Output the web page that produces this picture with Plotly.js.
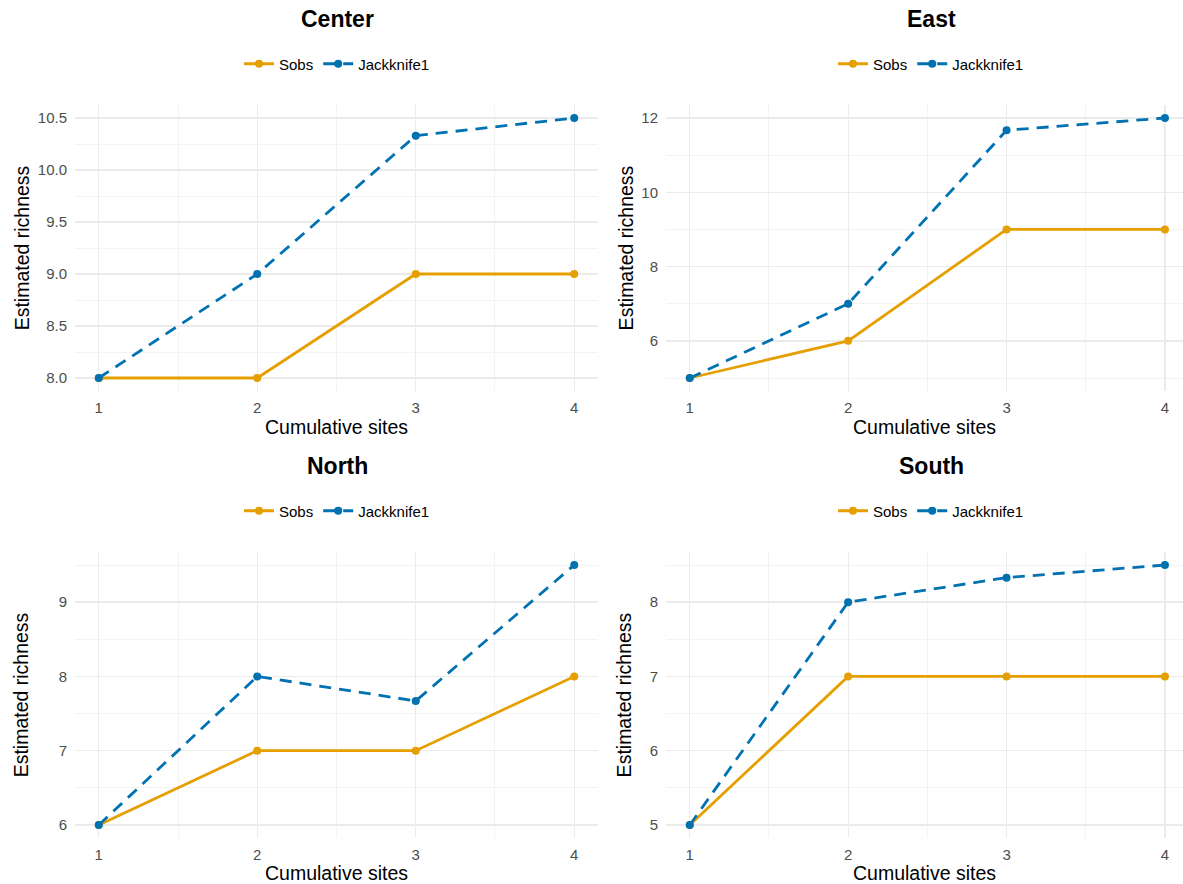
<!DOCTYPE html>
<html>
<head>
<meta charset="utf-8">
<script src="https://cdn.plot.ly/plotly-3.0.1.min.js"></script>
<style>html,body{margin:0;padding:0;background:#fff;}#chart{width:1183px;height:884px;}</style>
</head>
<body>
<div id="chart"></div>
<script>
const sites = [1, 2, 3, 4];
const panelNames = ["Center", "East", "North", "South"];
const seriesNames = ["Sobs", "Jackknife1"];
const centerSobs = [8, 8, 9, 9];
const centerJack = [8, 9, 10.33, 10.5];
const eastSobs = [5, 6, 9, 9];
const eastJack = [5, 7, 11.67, 12];
const northSobs = [6, 7, 7, 8];
const northJack = [6, 8, 7.67, 9.5];
const southSobs = [5, 7, 7, 7];
const southJack = [5, 8, 8.33, 8.5];
const xTitle = "Cumulative sites";
const yTitle = "Estimated richness";

const orange = "#E69F00", blue = "#0072B2";
const FONT = "Liberation Sans, Arial, sans-serif";
const W = 1183, H = 884;
const px = v => v / W, py = v => 1 - v / H;

const panels = [
  {name: panelNames[0], sobs: centerSobs, jack: centerJack, xd: [75, 598], yd: [105, 391], yr: [7.875, 10.625], dtick: 0.5, minor: 0.25, fmt: ".1f", xr: [0.85, 4.15], cx: 337, ty: 19, ly: 64, ys: 2},
  {name: panelNames[1], sobs: eastSobs, jack: eastJack, xd: [666, 1183], yd: [105, 391], yr: [4.65, 12.35], dtick: 2, minor: 1, fmt: "d", xr: [0.85, 4.114], cx: 931, ty: 19, ly: 64, ys: 2},
  {name: panelNames[2], sobs: northSobs, jack: northJack, xd: [75, 598], yd: [552, 838], yr: [5.825, 9.675], dtick: 1, minor: 0.5, fmt: "d", xr: [0.85, 4.15], cx: 337, ty: 466, ly: 511, ys: 24},
  {name: panelNames[3], sobs: southSobs, jack: southJack, xd: [666, 1183], yd: [552, 838], yr: [4.825, 8.675], dtick: 1, minor: 0.5, fmt: "d", xr: [0.85, 4.114], cx: 931, ty: 466, ly: 511, ys: 12}
];

const traces = [];
const layout = {
  width: W, height: H,
  margin: {l: 0, r: 0, t: 0, b: 0},
  paper_bgcolor: "#fff", plot_bgcolor: "#fff",
  font: {family: FONT, color: "#000"},
  showlegend: true,
  annotations: []
};

panels.forEach((p, i) => {
  const n = i + 1;
  const xa = "x" + (n === 1 ? "" : n), ya = "y" + (n === 1 ? "" : n);
  const lg = "legend" + (n === 1 ? "" : n);
  traces.push({
    x: sites, y: p.sobs, name: seriesNames[0], type: "scatter", mode: "lines+markers",
    xaxis: xa, yaxis: ya, legend: lg,
    line: {color: orange, width: 2.8}, marker: {color: orange, size: 8}
  });
  traces.push({
    x: sites, y: p.jack, name: seriesNames[1], type: "scatter", mode: "lines+markers",
    xaxis: xa, yaxis: ya, legend: lg,
    line: {color: blue, width: 2.8, dash: "12px,8px"}, marker: {color: blue, size: 8}
  });
  const xkey = "xaxis" + (n === 1 ? "" : n), ykey = "yaxis" + (n === 1 ? "" : n);
  layout[xkey] = {
    domain: [px(p.xd[0]), px(p.xd[1])], anchor: ya, range: p.xr,
    tick0: 1, dtick: 1, showgrid: true, gridcolor: "#ebebeb", gridwidth: 1.3,
    minor: {dtick: 0.5, tick0: 0.5, showgrid: true, gridcolor: "#f0f0f0", gridwidth: 0.8},
    zeroline: false, showline: false, ticks: "", automargin: false,
    ticklabelstandoff: 6,
    tickfont: {size: 15, color: "#4d4d4d", family: FONT},
    title: {text: xTitle, font: {size: 19.5, color: "#000", family: FONT}, standoff: 5}
  };
  layout[ykey] = {
    domain: [py(p.yd[1]), py(p.yd[0])], anchor: xa, range: p.yr,
    tick0: 0, dtick: p.dtick, tickformat: p.fmt,
    showgrid: true, gridcolor: "#ebebeb", gridwidth: 1.3,
    minor: {dtick: p.minor, tick0: 0, showgrid: true, gridcolor: "#f0f0f0", gridwidth: 0.8},
    zeroline: false, showline: false, ticks: "", automargin: false,
    ticklabelstandoff: 7,
    tickfont: {size: 15, color: "#4d4d4d", family: FONT},
    title: {text: yTitle, font: {size: 19.5, color: "#000", family: FONT}, standoff: p.ys}
  };
  layout[lg] = {
    orientation: "h", x: px(p.cx), xanchor: "center", y: py(p.ly), yanchor: "middle",
    font: {size: 15, color: "#000", family: FONT}, bgcolor: "rgba(0,0,0,0)",
    itemwidth: 30
  };
  layout.annotations.push({
    text: "<b>" + p.name + "</b>", xref: "paper", yref: "paper",
    x: px(p.cx), y: py(p.ty), xanchor: "center", yanchor: "middle", showarrow: false,
    font: {size: 23, color: "#000", family: FONT}
  });
});

Plotly.newPlot("chart", traces, layout, {displayModeBar: false, staticPlot: true});
</script>
</body>
</html>
